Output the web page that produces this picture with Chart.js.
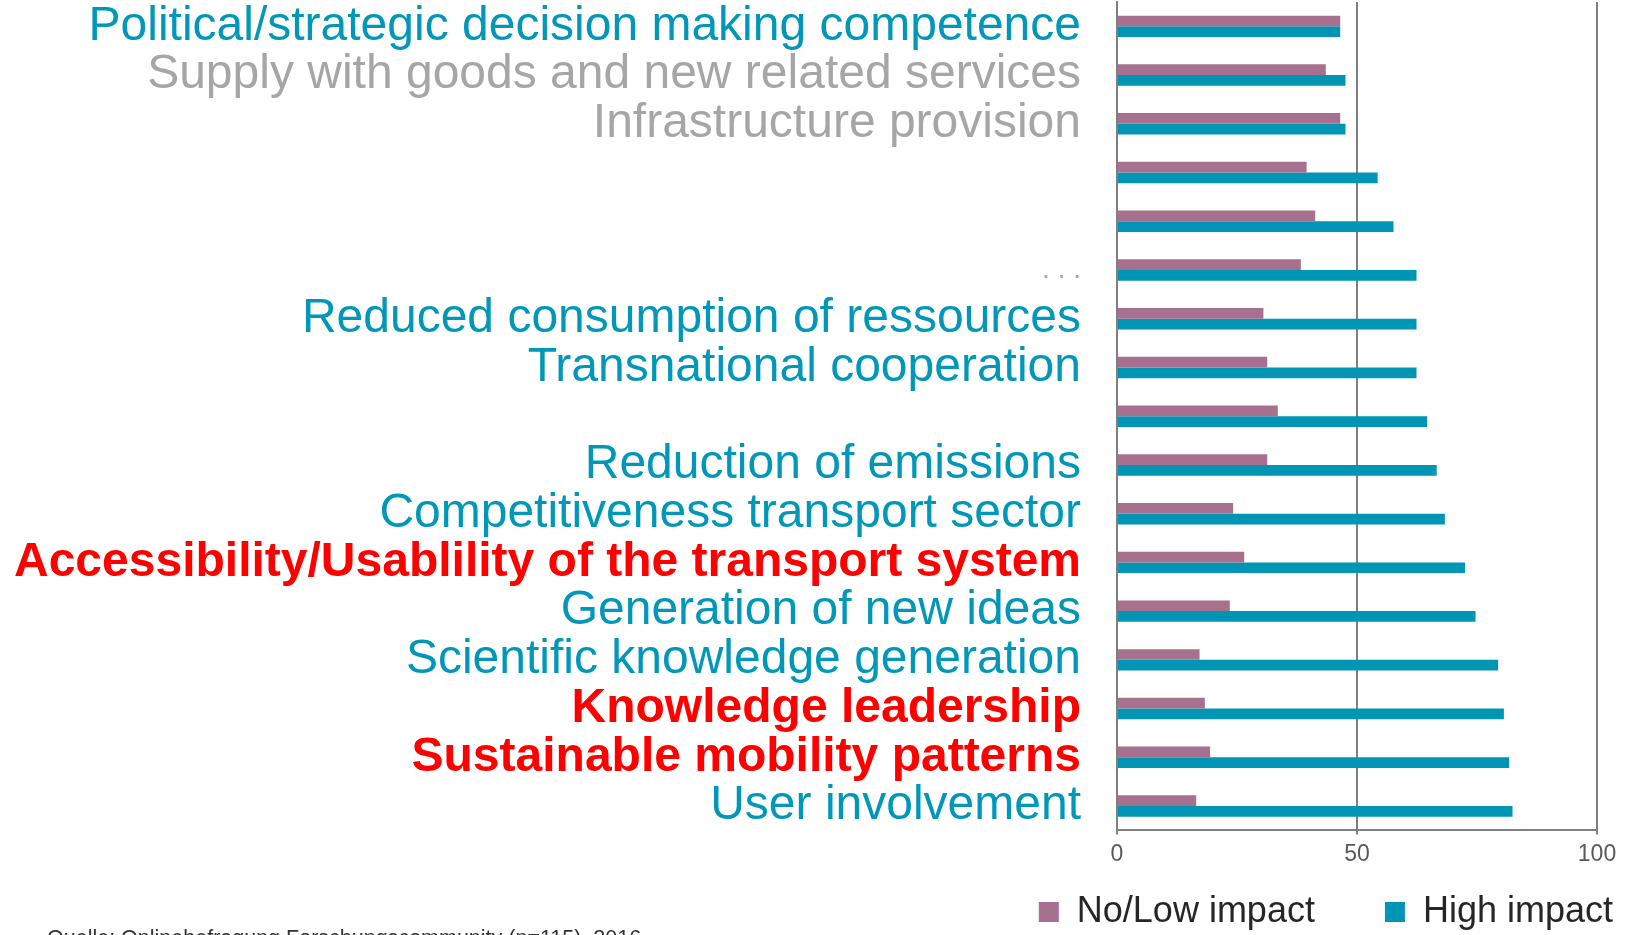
<!DOCTYPE html>
<html>
<head>
<meta charset="utf-8">
<script src="https://cdn.jsdelivr.net/npm/chart.js@4.4.0/dist/chart.umd.min.js"></script>
<style>
    html, body { margin: 0; padding: 0; background: #fff; overflow: hidden; }
    #wrap { position: relative; width: 1626px; height: 935px; }
    #source {
        position: absolute; left: 47px; top: 928px;
        font: 21.5px "Liberation Sans", Arial, sans-serif; line-height: 21px;
        color: #333; white-space: nowrap;
    }
</style>
</head>
<body>
<div id="wrap">
    <canvas id="impactChart"></canvas>
    <div id="source">Quelle: Onlinebefragung Forschungscommunity (n=115), 2016</div>
</div>
<script>
// Category labels (top to bottom), empty strings are rows without a label
const categories = [
    'Political/strategic decision making competence',
    'Supply with goods and new related services',
    'Infrastructure provision',
    '',
    '',
    '. . .',
    'Reduced consumption of ressources',
    'Transnational cooperation',
    '',
    'Reduction of emissions',
    'Competitiveness transport sector',
    'Accessibility/Usablility of the transport system',
    'Generation of new ideas',
    'Scientific knowledge generation',
    'Knowledge leadership',
    'Sustainable mobility patterns',
    'User involvement'
];

// label style per row: 'teal', 'grey', 'red' (bold), 'dots'
const labelKinds = ['teal', 'grey', 'grey', 'teal', 'teal', 'dots', 'teal', 'teal', 'teal',
    'teal', 'teal', 'red', 'teal', 'teal', 'red', 'red', 'teal'];

const seriesNames = ['No/Low impact', 'High impact'];
const noLowImpact = [46.5, 43.5, 46.5, 39.5, 41.3, 38.3, 30.5, 31.3, 33.5, 31.3, 24.2, 26.5, 23.5, 17.2, 18.3, 19.4, 16.5];
const highImpact  = [46.5, 47.6, 47.6, 54.3, 57.6, 62.4, 62.4, 62.4, 64.6, 66.6, 68.3, 72.5, 74.7, 79.4, 80.6, 81.7, 82.4];

const xTicks = [0, 50, 100];

const PINK = '#a6708e';
const TEAL = '#0094b5';
const FONT = '"Liberation Sans", Arial, sans-serif';
const labelColors = { teal: '#0097b9', grey: '#a6a6a6', red: '#ff0000', dots: '#a6a6a6' };

// push the legend to the right edge like in the slide
const legendShift = {
    id: 'legendShift',
    afterLayout(chart) {
        chart.legend.left += 36;
        chart.legend.right += 36;
    }
};

const ctx = document.getElementById('impactChart').getContext('2d');
new Chart(ctx, {
    type: 'bar',
    data: {
        labels: categories,
        datasets: [
            {
                label: seriesNames[0],
                data: noLowImpact,
                backgroundColor: PINK,
                borderWidth: 0,
                categoryPercentage: 0.44,
                barPercentage: 1
            },
            {
                label: seriesNames[1],
                data: highImpact,
                backgroundColor: TEAL,
                borderWidth: 0,
                categoryPercentage: 0.44,
                barPercentage: 1
            }
        ]
    },
    plugins: [legendShift],
    options: {
        indexAxis: 'y',
        responsive: true,
        maintainAspectRatio: false,
        animation: false,
        layout: { padding: { left: 0, right: 29, top: 2, bottom: -5 } },
        scales: {
            x: {
                min: 0,
                max: 100,
                afterBuildTicks: scale => { scale.ticks = xTicks.map(v => ({ value: v })); },
                grid: { color: '#7f7f7f', lineWidth: 2, tickLength: 4 },
                border: { color: '#7f7f7f', width: 2 },
                ticks: {
                    color: '#595959',
                    font: { family: FONT, size: 23 },
                    padding: 6
                }
            },
            y: {
                grid: { display: false },
                border: { color: '#7f7f7f', width: 2 },
                afterFit: scale => {
                    scale.width = 1117;
                    scale.paddingTop = 0;
                    scale.paddingBottom = 0;
                },
                ticks: {
                    autoSkip: false,
                    padding: 28,
                    color: c => labelColors[labelKinds[c.index]],
                    font: c => {
                        const kind = labelKinds[c.index];
                        if (kind === 'dots') return { family: FONT, size: 28 };
                        return { family: FONT, size: 48, weight: kind === 'red' ? 'bold' : 'normal' };
                    }
                }
            }
        },
        plugins: {
            tooltip: { enabled: false },
            legend: {
                position: 'bottom',
                align: 'end',
                labels: {
                    boxWidth: 20,
                    boxHeight: 20,
                    padding: 20,
                    color: '#262626',
                    font: { family: FONT, size: 36 },
                    generateLabels: chart => {
                        const items = Chart.defaults.plugins.legend.labels.generateLabels(chart);
                        items[0].text += '     ';
                        return items;
                    }
                }
            }
        }
    }
});
</script>
</body>
</html>
